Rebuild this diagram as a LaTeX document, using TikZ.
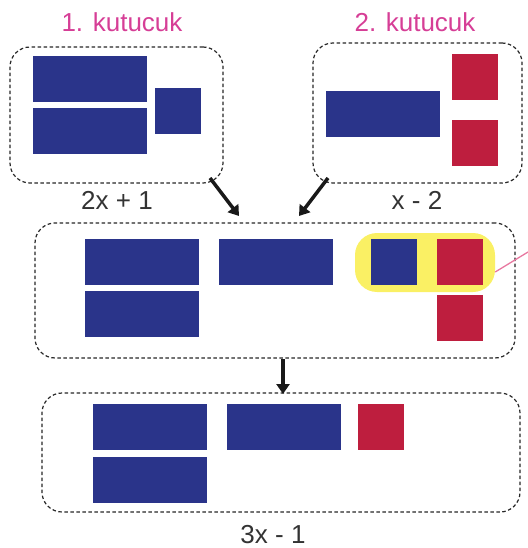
\documentclass[tikz,border=0pt]{standalone}
\usepackage{fontspec}
\setmainfont{Liberation Sans}
\usetikzlibrary{arrows.meta}
\definecolor{tileblue}{RGB}{42,52,138}
\definecolor{tilered}{RGB}{190,30,62}
\definecolor{lblpink}{RGB}{214,62,150}
\definecolor{hlyellow}{RGB}{250,240,100}
\definecolor{lnpink}{RGB}{232,120,160}
\tikzset{
  frame/.style={draw=black!85, line width=1.2pt, dash pattern=on 3.5pt off 2.5pt, rounded corners=20pt, inner sep=0pt},
  longtile/.style={fill=tileblue, draw=none, minimum width=114pt, minimum height=46pt, inner sep=0pt},
  bluesq/.style={fill=tileblue, draw=none, minimum width=46pt, minimum height=46pt, inner sep=0pt},
  redsq/.style={fill=tilered, draw=none, minimum width=46pt, minimum height=46pt, inner sep=0pt},
  lbl/.style={font=\fontsize{26}{29}\selectfont, text=black!80, inner sep=0pt},
  title/.style={font=\fontsize{26}{29}\selectfont, text=lblpink, inner sep=0pt},
  arr/.style={line width=3.5pt, -{Triangle[length=10pt,width=13pt]}, black!90}
}
\begin{document}
\begin{tikzpicture}[x=1pt,y=-1pt]
\useasboundingbox (0,0) rectangle (527,548);
% box 1
\node[frame, minimum width=213pt, minimum height=136pt] (b1) at (116.5,115) {};
\node[longtile] (r1a) at (90,79.5) {};
\node[longtile] (r1b) at (90,131) {};
\node[bluesq] (s1) at (178,111) {};
\node[title] (t1) at (122,22) {1. kutucuk};
\node[lbl] (e1) at (117,200) {2x + 1};
% box 2
\node[frame, minimum width=209pt, minimum height=140pt] (b2) at (417.5,113) {};
\node[longtile] (r2) at (383,114) {};
\node[redsq] (q2a) at (474.5,77) {};
\node[redsq] (q2b) at (474.5,143.5) {};
\node[title] (t2) at (415,22) {2. kutucuk};
\node[lbl] (e2) at (417,200) {x - 2};
% box 3
\node[frame, minimum width=480pt, minimum height=135pt] (b3) at (275,290.5) {};
\node[fill=hlyellow, rounded corners=22pt, minimum width=140pt, minimum height=59pt, inner sep=0pt] (hl) at (425,262.5) {};
\node[longtile] (r3a) at (142,261.5) {};
\node[longtile] (r3b) at (142,314) {};
\node[longtile] (r3c) at (276,261.5) {};
\node[bluesq] (s3) at (393.5,261.5) {};
\node[redsq] (q3a) at (460,261.5) {};
\node[redsq] (q3b) at (460,317.5) {};
% box 4
\node[frame, minimum width=478pt, minimum height=119pt] (b4) at (281,452.5) {};
\node[longtile] (r4a) at (149.5,427) {};
\node[longtile] (r4b) at (149.5,479.5) {};
\node[longtile] (r4c) at (283.5,427) {};
\node[redsq] (q4) at (381,427) {};
\node[lbl] (e4) at (273,535) {3x - 1};
% connectors
\coordinate (a1s) at (210,178);
\coordinate (a1e) at (239,216);
\coordinate (a2s) at (328,178);
\coordinate (a2e) at (299,216);
\coordinate (a3s) at (283,359);
\coordinate (a3e) at (283,394);
\coordinate (pk) at (528,252);
\draw[arr] (a1s) -- (a1e);
\draw[arr] (a2s) -- (a2e);
\draw[arr] (a3s) -- (a3e);
\draw[lnpink, line width=1.3pt] (hl.east |- 0,272) -- (pk);
\end{tikzpicture}
\end{document}
